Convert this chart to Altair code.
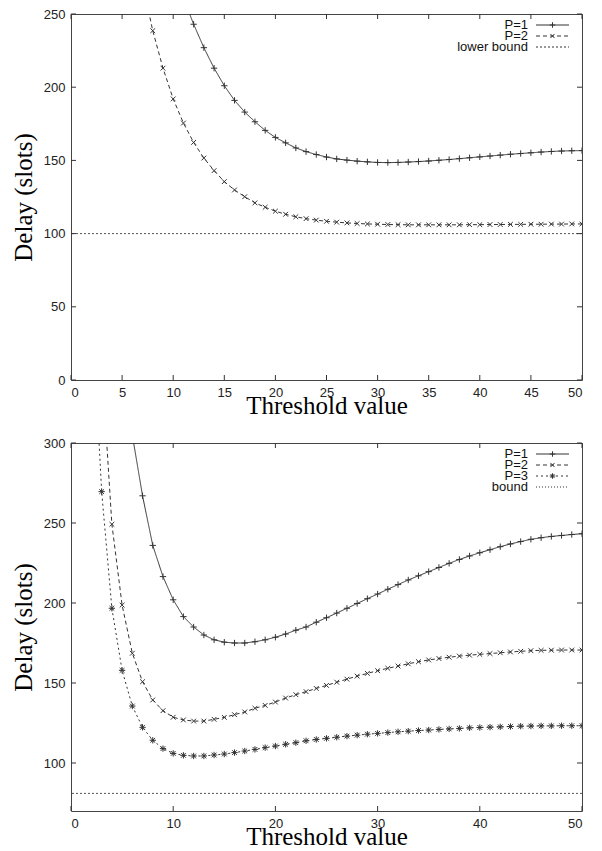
import altair as alt
import pandas as pd

# ---------------- data ----------------
top_p1_x = list(range(11, 51))
top_p1_y = [261, 243, 227, 213, 201, 191, 183, 176.4, 170.5, 165.7, 162, 158.5, 156, 154,
            152.3, 151, 150.2, 149.5, 149, 148.6, 148.5, 148.6, 148.9, 149.2, 149.6, 150.1,
            150.6, 151.2, 151.8, 152.4, 153, 153.6, 154.2, 154.7, 155.2, 155.7, 156.1, 156.4,
            156.6, 156.7]
top_p2_x = list(range(7, 51))
top_p2_y = [271, 238.6, 213, 192, 175.5, 162.3, 151.6, 143, 135.5, 129.8, 125.2, 121, 118,
            115.3, 113.2, 111.5, 110.2, 109.2, 108.4, 107.8, 107.3, 106.9, 106.6, 106.4, 106.2,
            106.1, 106, 106, 106, 106, 106, 106, 106.1, 106.1, 106.2, 106.2, 106.3, 106.3,
            106.4, 106.4, 106.5, 106.5, 106.6, 106.6]
top_bound = [100]

bot_p1_x = list(range(6, 51))
bot_p1_y = [305, 267, 236, 216.5, 202, 191.5, 185, 180, 177, 175.5, 175, 175, 175.8, 177,
            178.6, 180.6, 183, 185, 188, 190.8, 193.7, 196.7, 199.7, 202.7, 205.6, 208.6,
            211.5, 214.4, 217, 219.6, 222.2, 224.8, 227.2, 229.4, 231.4, 233.3, 235.2, 236.9,
            238.4, 239.8, 240.8, 241.6, 242.2, 242.8, 243.3]
bot_p2_x = list(range(3, 51))
bot_p2_y = [350, 249.2, 198.7, 168.6, 150.8, 139.4, 132.7, 128.6, 126.9, 126.2, 126.2, 127.3,
            128.5, 130.2, 131.9, 134.2, 136, 138.1, 140.6, 142.7, 144.6, 146.6, 148.5, 150.5,
            152.4, 154.3, 156, 157.7, 159.2, 160.6, 162, 163.3, 164.4, 165.3, 166.1, 166.8,
            167.4, 167.9, 168.4, 168.9, 169.4, 169.8, 170.2, 170.4, 170.5, 170.6, 170.6, 170.6]
bot_p3_x = list(range(2, 51))
bot_p3_y = [390, 269.6, 196.7, 157.9, 135.6, 122.3, 114.2, 109, 106, 104.8, 104.4, 104.4,
            105, 105.6, 106.5, 107.5, 108.5, 109.6, 110.6, 111.7, 112.7, 113.9, 114.7, 115.4,
            116.1, 116.8, 117.4, 118, 118.5, 119, 119.5, 119.9, 120.3, 120.6, 121, 121.3,
            121.6, 122, 122.2, 122.4, 122.6, 122.8, 123, 123.1, 123.2, 123.2, 123.3, 123.3, 123.3]
bot_bound = [81]

top_xticks = [0, 5, 10, 15, 20, 25, 30, 35, 40, 45, 50]
top_yticks = [0, 50, 100, 150, 200, 250]
bot_xticks = [0, 10, 20, 30, 40, 50]
bot_yticks = [100, 150, 200, 250, 300]

# ---------------- style ----------------
INK = "#333333"
PLUS = "M-1,0L1,0M0,-1L0,1"
CROSS = "M-0.75,-0.75L0.75,0.75M-0.75,0.75L0.75,-0.75"
STAR = PLUS + CROSS
TICK = 5


def panel(series, bound, xticks, yticks, ydom, W, H, leg_entries, right_text):
    xs = alt.Scale(domain=[0, 50], nice=False, zero=False)
    ys = alt.Scale(domain=ydom, nice=False, zero=False)
    xa = alt.Axis(values=xticks, ticks=False, grid=False, domain=False,
                  title="Threshold value", labelPadding=6, titlePadding=-6)
    ya = alt.Axis(values=yticks, ticks=False, grid=False, domain=False,
                  title="Delay (slots)", labelPadding=6, titlePadding=7)
    X = lambda f: alt.X(f, scale=xs, axis=xa)
    Y = lambda f: alt.Y(f, scale=ys, axis=ya)

    layers = []
    # bound line
    layers.append(alt.Chart(pd.DataFrame({"b": bound})).mark_rule(
        color="#555555", strokeWidth=1, strokeDash=[2, 2]).encode(y=Y("b:Q")))
    for xs_, ys_, dash, shape in series:
        df = pd.DataFrame({"x": xs_, "y": ys_})
        base = alt.Chart(df).encode(x=X("x:Q"), y=Y("y:Q"))
        layers.append(base.mark_line(clip=True, color=INK, strokeWidth=1,
                                     strokeDash=dash))
        layers.append(base.mark_point(clip=True, shape=shape, filled=False, size=40,
                                      color=INK, strokeWidth=1, opacity=1))
    # inward ticks on all four sides
    dx = pd.DataFrame({"t": xticks})
    dy = pd.DataFrame({"t": yticks})
    for y0, y1 in [(H, H - TICK), (0, TICK)]:
        layers.append(alt.Chart(dx).mark_rule(color=INK, strokeWidth=1).encode(
            x=X("t:Q"), y=alt.value(y0), y2=alt.value(y1)))
    for x0, x1 in [(0, TICK), (W, W - TICK)]:
        layers.append(alt.Chart(dy).mark_rule(color=INK, strokeWidth=1).encode(
            y=Y("t:Q"), x=alt.value(x0), x2=alt.value(x1)))
    # legend (gnuplot style: label, then sample)
    one = pd.DataFrame({"a": [0]})
    for i, (label, dash, shape) in enumerate(leg_entries):
        yy = 11 + i * 11
        layers.append(alt.Chart(one).mark_text(
            align="right", baseline="middle", font="Liberation Sans", fontSize=13,
            color="#111111").encode(
            x=alt.value(W - right_text), y=alt.value(yy), text=alt.value(label)))
        layers.append(alt.Chart(one).mark_rule(color=INK, strokeWidth=1,
                                               strokeDash=dash).encode(
            x=alt.value(W - 46), x2=alt.value(W - 13), y=alt.value(yy)))
        if shape:
            layers.append(alt.Chart(one).mark_point(
                shape=shape, filled=False, size=30, color=INK, strokeWidth=1,
                opacity=1).encode(x=alt.value(W - 29.5), y=alt.value(yy)))
    return alt.layer(*layers).properties(width=W, height=H)


top = panel(
    [(top_p1_x, top_p1_y, [1, 0], PLUS), (top_p2_x, top_p2_y, [4, 3], CROSS)],
    top_bound, top_xticks, top_yticks, [0, 250], 511, 366,
    [("P=1", [1, 0], PLUS), ("P=2", [4, 3], CROSS), ("lower bound", [2, 2], None)], 54)

bottom = panel(
    [(bot_p1_x, bot_p1_y, [1, 0], PLUS), (bot_p2_x, bot_p2_y, [4, 3], CROSS),
     (bot_p3_x, bot_p3_y, [2, 3], STAR)],
    bot_bound, bot_xticks, bot_yticks, [70, 300], 511, 368,
    [("P=1", [1, 0], PLUS), ("P=2", [4, 3], CROSS), ("P=3", [2, 3], STAR),
     ("bound", [1, 2], None)], 54)

chart = alt.vconcat(top, bottom, spacing=17).properties(
    padding={"top": -1, "left": 2, "right": 0, "bottom": 0}
).configure_view(
    stroke="#444444", strokeWidth=1
).configure_axis(
    labelFont="Liberation Sans", labelFontSize=13, labelColor="#222222",
    titleFont="Liberation Serif", titleFontSize=25, titleFontWeight="normal",
    titleColor="#000000"
)

chart.save("out.html", embed_options={"renderer": "svg", "actions": False})
